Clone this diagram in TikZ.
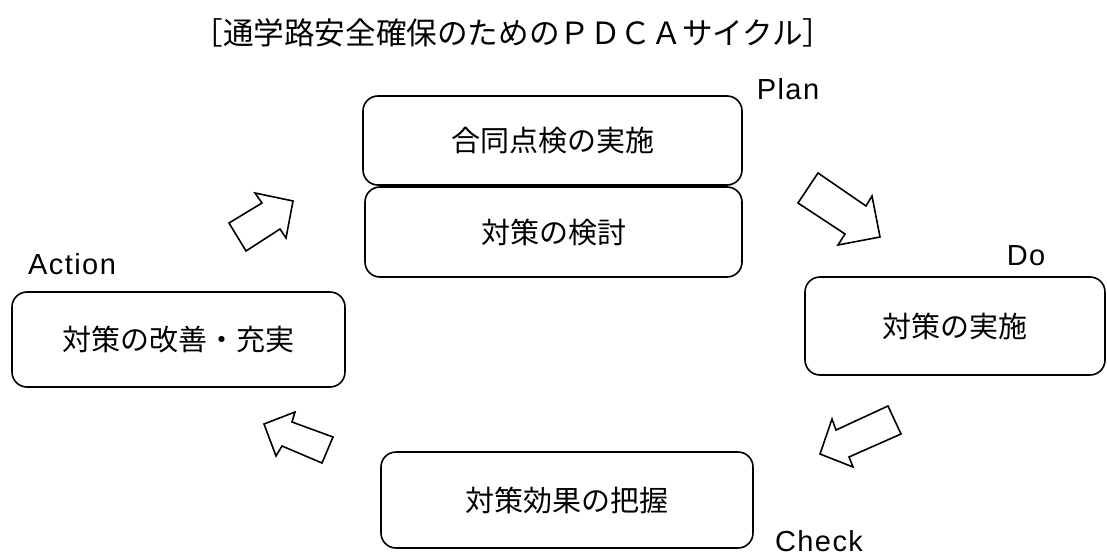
\documentclass[tikz,border=0pt]{standalone}
\usepackage{fontspec}
\newfontfamily\jp{Noto Sans CJK JP}
\newfontfamily\lat[LetterSpace=5]{Liberation Sans}
\begin{document}
\begin{tikzpicture}[x=1pt,y=-1pt,
  box/.style={draw, line width=1.6pt, rounded corners=15pt, inner sep=0pt,
    font=\jp\fontsize{29}{31}\selectfont},
  phase/.style={font=\lat\fontsize{29}{30}\selectfont, inner sep=0pt},
  blockarrow/.style={draw, line width=1.6pt, line join=miter, fill=white}]
\useasboundingbox (0,0) rectangle (1107,559);
\node[font=\jp\fontsize{30.6}{32}\selectfont, inner sep=0pt] (title) at (513,33) {［通学路安全確保のためのＰＤＣＡサイクル］};
\node[box, minimum width=379, minimum height=89] (p1) at (552.5,140.5) {合同点検の実施};
\node[box, minimum width=377, minimum height=90] (p2) at (553.5,232) {対策の検討};
\node[box, minimum width=333, minimum height=95] (act) at (178.5,339.5) {対策の改善・充実};
\node[box, minimum width=300, minimum height=98] (do) at (955,326) {対策の実施};
\node[box, minimum width=372, minimum height=96] (chk) at (567,500) {対策効果の把握};
\node[phase] (lplan) at (788,89) {Plan};
\node[phase] (ldo) at (1026,256) {Do};
\node[phase] (lact) at (72,264) {Action};
\node[phase] (lchk) at (819,541) {Check};
% block arrows
\draw[blockarrow] (229,223) -- (262,203) -- (255,193) -- (293,201) -- (286,238) -- (280,229) -- (246,251) -- cycle;
\draw[blockarrow] (818,173) -- (866,206) -- (872,196) -- (880,237) -- (838,245) -- (845,234) -- (798,203) -- cycle;
\draw[blockarrow] (888,406) -- (836,430) -- (832,419) -- (820,454) -- (853,467) -- (849,457) -- (901,434) -- cycle;
\draw[blockarrow] (264,424) -- (295,412) -- (292,422) -- (333,437) -- (322,463) -- (282,446) -- (276,456) -- cycle;
\end{tikzpicture}
\end{document}
